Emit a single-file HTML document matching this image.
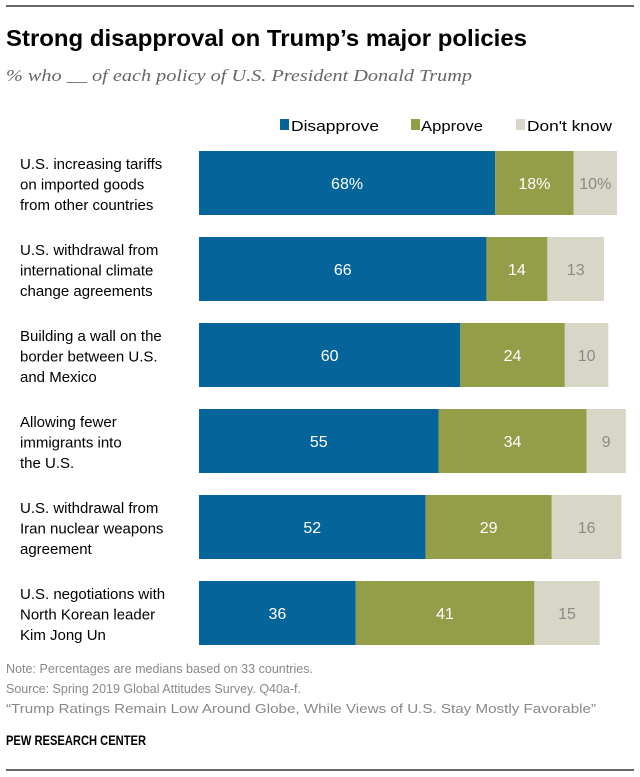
<!DOCTYPE html>
<html><head><meta charset="utf-8"><style>
body{margin:0;background:#fff}
svg{display:block;font-family:"Liberation Sans",sans-serif}
</style></head><body>
<svg id="chart" width="640" height="777" viewBox="0 0 640 777" xmlns="http://www.w3.org/2000/svg">
<line x1="6" y1="6" x2="634" y2="6" stroke="#333" stroke-width="1.5"/>
<text x="6" y="46" font-size="23" font-weight="bold" fill="#000" textLength="521" lengthAdjust="spacingAndGlyphs">Strong disapproval on Trump’s major policies</text>
<text x="6" y="81" font-size="16.5" font-style="italic" fill="#666" font-family="Liberation Serif,serif" textLength="466" lengthAdjust="spacingAndGlyphs">% who __ of each policy of U.S. President Donald Trump</text>
<g font-size="15" fill="#000">
<rect x="280" y="119" width="9" height="11" fill="#05659a"/>
<text x="291" y="131" textLength="88" lengthAdjust="spacingAndGlyphs">Disapprove</text>
<rect x="411" y="119" width="9" height="11" fill="#949d48"/>
<text x="421" y="131" textLength="62" lengthAdjust="spacingAndGlyphs">Approve</text>
<rect x="516" y="119" width="9" height="11" fill="#d8d6c6"/>
<text x="527" y="131" textLength="85" lengthAdjust="spacingAndGlyphs">Don't know</text>
</g>
<g id="bars"></g>
<g font-size="13" fill="#888">
<text x="6" y="673" textLength="307" lengthAdjust="spacingAndGlyphs">Note: Percentages are medians based on 33 countries.</text>
<text x="6" y="693" textLength="295" lengthAdjust="spacingAndGlyphs">Source: Spring 2019 Global Attitudes Survey. Q40a-f.</text>
<text x="6" y="713" textLength="590" lengthAdjust="spacingAndGlyphs">“Trump Ratings Remain Low Around Globe, While Views of U.S. Stay Mostly Favorable”</text>
</g>
<text x="6" y="745" font-size="14" font-weight="bold" fill="#000" textLength="140" lengthAdjust="spacingAndGlyphs">PEW RESEARCH CENTER</text>
<line x1="6" y1="770" x2="634" y2="770" stroke="#333" stroke-width="1.5"/>
</svg>
<script>
const categories = [
 ["U.S. increasing tariffs","on imported goods","from other countries"],
 ["U.S. withdrawal from","international climate","change agreements"],
 ["Building a wall on the","border between U.S.","and Mexico"],
 ["Allowing fewer","immigrants into","the U.S."],
 ["U.S. withdrawal from","Iran nuclear weapons","agreement"],
 ["U.S. negotiations with","North Korean leader","Kim Jong Un"]
];
const disapprove = [68,66,60,55,52,36];
const approve = [18,14,24,34,29,41];
const dontKnow = [10,13,10,9,16,15];

const NS="http://www.w3.org/2000/svg";
const g=document.getElementById('bars');
const x0=199, scale=4.355, rowTop=151, pitch=86, barH=64;
const xs=v=>v*scale;
const series=[
 {vals:disapprove,fill:"#05659a",txt:"#fff",name:"disapprove"},
 {vals:approve,fill:"#949d48",txt:"#fff",name:"approve"},
 {vals:dontKnow,fill:"#d8d6c6",txt:"#8a8a8a",name:"dont-know"}
];
function mk(tag,attrs){const e=document.createElementNS(NS,tag);for(const k in attrs)e.setAttribute(k,attrs[k]);return e;}
categories.forEach((lines,i)=>{
 const y=rowTop+i*pitch;
 const lab=mk('text',{x:20,'font-size':15,fill:'#000'});
 
 
 lines.forEach((l,j)=>{const t=mk('tspan',{x:20,y:y+18+j*20.5});t.textContent=l;lab.appendChild(t);});
 g.appendChild(lab);
 let cx=x0;
 series.forEach(s=>{
  const v=s.vals[i], w=xs(v);
  const r=mk('rect',{x:cx,y:y,width:w,height:barH,fill:s.fill});
  
  
  g.appendChild(r);
  const t=mk('text',{x:cx+w/2,y:y+barH/2+6,'font-size':16,fill:s.txt,'text-anchor':'middle'});
  
  
  t.textContent=v+(i===0?'%':'');
  g.appendChild(t);
  cx+=w;
 });
});
</script>
</body></html>
